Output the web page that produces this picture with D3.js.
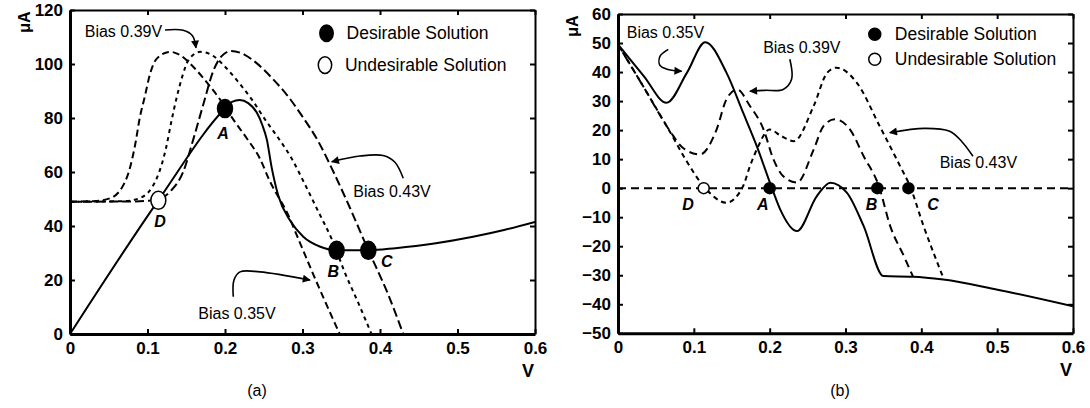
<!DOCTYPE html>
<meta charset="utf-8">
<style>
body { margin: 0; background: #fff; }
text { font-family: "Liberation Sans", Arial, sans-serif; fill: #000; }
.tick text { font-weight: bold; font-size: 17px; }
.tick line, .domain { stroke: #000; }
</style>
<script src="https://d3js.org/d3.v7.min.js"></script>
<div id="viz"></div>
<script>
// ---------- data ----------
var xTicks = [0, 0.1, 0.2, 0.3, 0.4, 0.5, 0.6];
var xTickLabels = ["0", "0.1", "0.2", "0.3", "0.4", "0.5", "0.6"];
var aYTicks = [0, 20, 40, 60, 80, 100, 120];
var bYTicks = [-50, -40, -30, -20, -10, 0, 10, 20, 30, 40, 50, 60];

// (a) device I-V (solid) and the three load curves (dashed)
var aDevV = [0, 0.114, 0.2, 0.209, 0.219, 0.23, 0.241, 0.248, 0.254, 0.26, 0.269, 0.284, 0.301, 0.323, 0.344, 0.385, 0.42, 0.47, 0.52, 0.56, 0.6];
var aDevI = [0, 49.5, 83.5, 86, 86.7, 85.5, 82, 77.5, 72, 62, 51, 42, 36, 32.3, 31, 31, 31.8, 33.5, 36, 38.5, 41.5];

var aLoad035V = [0, 0.03, 0.052, 0.073, 0.084, 0.09, 0.097, 0.103, 0.112, 0.129, 0.142, 0.159, 0.176, 0.194, 0.211, 0.228, 0.245, 0.258, 0.28, 0.297, 0.314, 0.33, 0.348];
var aLoad035I = [49, 49.2, 50.3, 57.7, 70, 80, 88.5, 96, 102, 104.5, 103.3, 99, 93.4, 86.7, 79.3, 72.5, 65, 56.5, 45, 33.6, 22, 11.5, 0];

var aLoad039V = [0, 0.07, 0.09, 0.112, 0.124, 0.131, 0.138, 0.145, 0.153, 0.168, 0.183, 0.2, 0.217, 0.235, 0.252, 0.269, 0.286, 0.303, 0.321, 0.338, 0.355, 0.372, 0.389];
var aLoad039I = [49, 49.2, 50.3, 57.7, 69, 79, 88, 95.5, 101.5, 104.5, 103.3, 99, 93.4, 86.7, 79.3, 72.5, 65, 55.5, 45, 35, 22.5, 11.5, 0];

var aLoad043V = [0, 0.08, 0.1, 0.114, 0.13, 0.146, 0.159, 0.172, 0.185, 0.196, 0.208, 0.225, 0.24, 0.26, 0.28, 0.3, 0.32, 0.34, 0.36, 0.385, 0.41, 0.43];
var aLoad043I = [49, 49.1, 49.3, 49.8, 53, 60, 72, 85, 97.5, 103, 104.8, 103.5, 100.5, 95, 88.5, 80.5, 71.5, 60, 47.5, 31, 15, 0];

var aPointV = [0.2, 0.344, 0.385, 0.114];
var aPointI = [83.5, 31, 31, 49.5];

// (b) current difference for each bias
var bDiff035V = [0, 0.034, 0.064, 0.091, 0.115, 0.143, 0.165, 0.183, 0.203, 0.214, 0.236, 0.262, 0.28, 0.302, 0.324, 0.35, 0.389, 0.429, 0.499, 0.6];
var bDiff035I = [49.5, 38.6, 29.4, 39.8, 50.3, 39.8, 26, 14.5, 0, -7.4, -14.8, -2.8, 1.9, -1.6, -13.1, -30.3, -30.5, -31.5, -34.9, -40.7];

var bDiff039V = [0, 0.035, 0.069, 0.085, 0.108, 0.13, 0.143, 0.157, 0.174, 0.192, 0.205, 0.218, 0.236, 0.258, 0.271, 0.286, 0.306, 0.324, 0.344, 0.359, 0.377, 0.389];
var bDiff039I = [49.5, 34.3, 19.5, 14, 11.6, 20.2, 30.6, 34, 28.3, 20.2, 9.9, 4.1, 1.9, 13.3, 21.4, 23.7, 20.2, 11, 0.7, -13.1, -23.4, -30.5];

var bDiff043V = [0, 0.035, 0.069, 0.09, 0.115, 0.143, 0.165, 0.174, 0.183, 0.2, 0.215, 0.232, 0.258, 0.276, 0.288, 0.315, 0.345, 0.372, 0.385, 0.403, 0.429];
var bDiff043I = [49.5, 34.3, 19.2, 9.5, 0, -5, 0.7, 7.6, 13.3, 20.2, 18, 16.2, 28.3, 39.8, 41.5, 36.3, 21.4, 7.6, 0.7, -13.1, -30.9];

var bZeroV = [0, 0.6];
var bZeroI = [0, 0];

var bPointV = [0.2, 0.342, 0.383, 0.113];
var bPointI = [0, 0, 0, 0];

var pointNames = ["A", "B", "C", "D"];
var pointFilled = [true, true, true, false];

function zip(xs, ys) { return xs.map(function(v, i) { return [v, ys[i]]; }); }

var svg = d3.select('#viz').append('svg')
    .attr('width', 1090).attr('height', 408);

svg.append('defs').append('marker')
    .attr('id', 'arr')
    .attr('viewBox', '0 0 10 10')
    .attr('refX', 9).attr('refY', 5)
    .attr('markerUnits', 'userSpaceOnUse')
    .attr('markerWidth', 11).attr('markerHeight', 8)
    .attr('orient', 'auto')
  .append('path').attr('d', 'M0,0L10,5L0,10z').attr('fill', '#000');

function panel(id, xr, yr, ydom, yTicks) {
    var x = d3.scaleLinear().domain([0, 0.6]).range(xr);
    var y = d3.scaleLinear().domain(ydom).range(yr);
    var g = svg.append('g');

    g.append('clipPath').attr('id', 'clip' + id)
      .append('rect').attr('x', xr[0]).attr('y', yr[1])
      .attr('width', xr[1] - xr[0]).attr('height', yr[0] - yr[1]);

    // frame: top and right, thin, inward ticks
    g.append('g').attr('transform', 'translate(0,' + yr[1] + ')')
        .call(d3.axisTop(x).tickValues(xTicks).tickSize(-5).tickSizeOuter(0).tickFormat(''))
        .selectAll('.domain, line').attr('stroke-width', 2);
    g.append('g').attr('transform', 'translate(' + xr[1] + ',0)')
        .call(d3.axisRight(y).tickValues(yTicks).tickSize(-5).tickSizeOuter(0).tickFormat(''))
        .selectAll('.domain, line').attr('stroke-width', 2);

    // bottom and left, thick with labels
    var bx = g.append('g').attr('transform', 'translate(0,' + yr[0] + ')')
        .call(d3.axisBottom(x).tickValues(xTicks).tickSize(-5).tickSizeOuter(0).tickPadding(8)
            .tickFormat(function(d, i) { return xTickLabels[i]; }));
    bx.select('.domain').attr('stroke-width', 3);
    bx.selectAll('line').attr('stroke-width', 2);
    var ly = g.append('g').attr('transform', 'translate(' + xr[0] + ',0)')
        .call(d3.axisLeft(y).tickValues(yTicks).tickSize(-5).tickSizeOuter(0).tickPadding(7));
    ly.select('.domain').attr('stroke-width', 3);
    ly.selectAll('line').attr('stroke-width', 2);
    g.selectAll('.tick text').attr('font-family', null).attr('font-size', null);

    g.append('text').attr('transform', 'translate(' + (xr[0] - 46) + ',' + (yr[1] + 12) + ') rotate(-90)')
        .attr('text-anchor', 'middle').attr('font-weight', 'bold').attr('font-size', 16)
        .attr('dominant-baseline', 'central').text('μA');
    g.append('text').attr('x', xr[1] - 7).attr('y', yr[0] + 43)
        .attr('text-anchor', 'middle').attr('font-weight', 'bold').attr('font-size', 18).text('V');

    var plot = g.append('g').attr('clip-path', 'url(#clip' + id + ')');
    return { x: x, y: y, g: g, plot: plot };
}

function curve(p, xs, ys, dash) {
    var line = d3.line().x(function(d) { return p.x(d[0]); }).y(function(d) { return p.y(d[1]); })
        .curve(d3.curveMonotoneX);
    p.plot.append('path').datum(zip(xs, ys))
        .attr('d', line).attr('fill', 'none').attr('stroke', '#000')
        .attr('stroke-width', 2).attr('stroke-dasharray', dash);
}

function points(p, xs, ys, rx, ry, labelPos) {
    xs.forEach(function(v, i) {
        p.g.append('ellipse').attr('cx', p.x(v)).attr('cy', p.y(ys[i]))
            .attr('rx', rx).attr('ry', ry)
            .attr('fill', pointFilled[i] ? '#000' : '#fff')
            .attr('stroke', '#000').attr('stroke-width', 1.5);
        p.g.append('text').attr('x', p.x(labelPos[i][0])).attr('y', p.y(labelPos[i][1]))
            .attr('text-anchor', 'middle').attr('dominant-baseline', 'central')
            .attr('font-weight', 'bold').attr('font-style', 'italic').attr('font-size', 16)
            .text(pointNames[i]);
    });
}

function note(p, txt, at, path) {
    p.g.append('text').attr('x', p.x(at[0])).attr('y', p.y(at[1]))
        .attr('dominant-baseline', 'central').attr('font-size', 16).text(txt);
    var line = d3.line().x(function(d) { return p.x(d[0]); }).y(function(d) { return p.y(d[1]); })
        .curve(d3.curveCatmullRom);
    p.g.append('path').attr('d', line(path)).attr('fill', 'none')
        .attr('stroke', '#000').attr('stroke-width', 1.6).attr('marker-end', 'url(#arr)');
}

function legend(p, at1, at2, rx, ry) {
    [at1, at2].forEach(function(a, i) {
        p.g.append('ellipse').attr('cx', p.x(a[0])).attr('cy', p.y(a[1]))
            .attr('rx', rx).attr('ry', ry)
            .attr('fill', i === 0 ? '#000' : '#fff').attr('stroke', '#000').attr('stroke-width', 1.5);
        p.g.append('text').attr('x', p.x(a[0]) + 20).attr('y', p.y(a[1]))
            .attr('dominant-baseline', 'central').attr('font-size', 17.5)
            .text(i === 0 ? 'Desirable Solution' : 'Undesirable Solution');
    });
}

// ---------- panel (a) ----------
var pa = panel('a', [70, 535], [334, 10], [0, 120], aYTicks);
curve(pa, aLoad035V, aLoad035I, '7,4');
curve(pa, aLoad039V, aLoad039I, '4,4');
curve(pa, aLoad043V, aLoad043I, '9,4');
curve(pa, aDevV, aDevI, null);
points(pa, aPointV, aPointI, 7.5, 9, [[0.1974, 74.3], [0.3397, 23.1], [0.4086, 26.8], [0.1161, 41.6]]);
legend(pa, [0.331, 111.4], [0.329, 99.6], 6.7, 8.3);
note(pa, 'Bias 0.39V', [0.019, 112], [[0.1226, 112.6], [0.146, 112.5], [0.158, 110.5], [0.1625, 106]]);
note(pa, 'Bias 0.43V', [0.3656, 52.7], [[0.43, 57.7], [0.419, 63.7], [0.404, 66.1], [0.374, 65.9], [0.3377, 63.8]]);
note(pa, 'Bias 0.35V', [0.1655, 7.7], [[0.2107, 13.8], [0.2116, 20], [0.2194, 23], [0.245, 23], [0.3097, 20]]);

// ---------- panel (b) ----------
var pb = panel('b', [618, 1073], [333.3, 14], [-50, 60], bYTicks);
curve(pb, bZeroV, bZeroI, '8,5');
curve(pb, bDiff039V, bDiff039I, '8,5');
curve(pb, bDiff043V, bDiff043I, '5,4');
curve(pb, bDiff035V, bDiff035I, null);
points(pb, bPointV, bPointI, 5.5, 5.5, [[0.191, -5.6], [0.3343, -5.6], [0.4154, -5.6], [0.0922, -5.6]]);
legend(pb, [0.3386, 53], [0.3386, 44.4], 6, 6);
note(pb, 'Bias 0.35V', [0.0115, 53.6], [[0.0663, 47.8], [0.0553, 45.4], [0.0553, 42.3], [0.0659, 40.9], [0.0839, 40.3]]);
note(pb, 'Bias 0.39V', [0.1914, 48.4], [[0.2266, 44.4], [0.2289, 37.5], [0.2178, 34], [0.1937, 33.7], [0.1739, 33.4]]);
note(pb, 'Bias 0.43V', [0.4242, 8.8], [[0.4681, 11], [0.4532, 16.1], [0.4374, 19.6], [0.4045, 20.6], [0.3584, 19.1]]);

// captions
svg.append('text').attr('x', 257).attr('y', 396).attr('text-anchor', 'middle')
    .attr('font-family', '"Liberation Serif", "Times New Roman", serif').attr('font-size', 16).text('(a)');
svg.append('text').attr('x', 840).attr('y', 396).attr('text-anchor', 'middle')
    .attr('font-family', '"Liberation Serif", "Times New Roman", serif').attr('font-size', 16).text('(b)');
</script>
